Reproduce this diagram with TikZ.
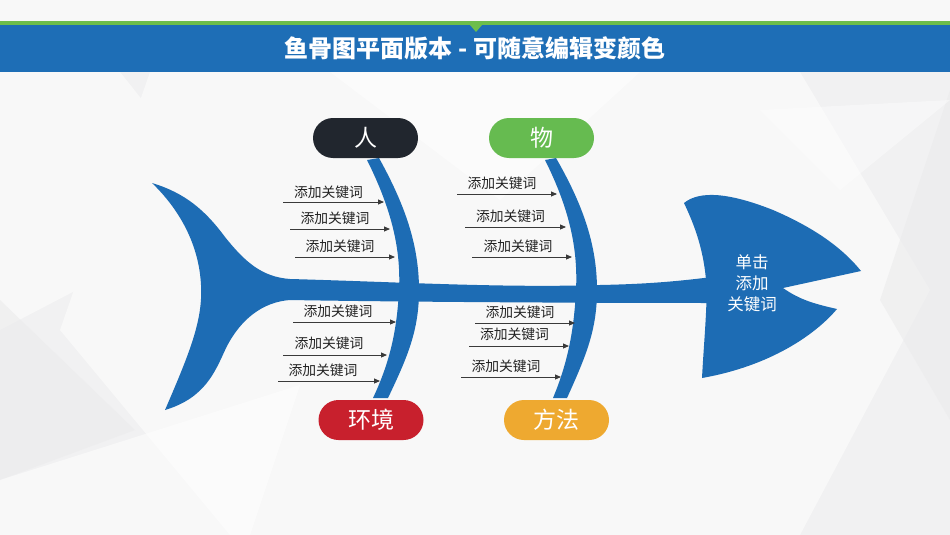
\documentclass[tikz,border=0pt]{standalone}
\usepackage{fontspec}
\setmainfont{Noto Sans CJK SC}
\usetikzlibrary{arrows.meta}
\definecolor{bgc}{HTML}{F1F1F2}
\definecolor{facet}{HTML}{F8F8F8}
\definecolor{facetd}{HTML}{EBEBEC}
\definecolor{hdrblue}{HTML}{1E6EB6}
\definecolor{hdrgreen}{HTML}{6DBE4B}
\definecolor{fishblue}{HTML}{1D6CB4}
\definecolor{pdark}{HTML}{21262E}
\definecolor{pgreen}{HTML}{66BB50}
\definecolor{pred}{HTML}{C8202D}
\definecolor{porange}{HTML}{EEA930}
\definecolor{arrowc}{HTML}{3A3A3A}
\definecolor{kwtext}{HTML}{222222}
\tikzset{
  pill/.style={rounded corners=20pt, minimum width=105pt, minimum height=40pt, inner sep=0pt, text=white, font=\fontsize{23}{26}\selectfont},
  kw/.style={inner sep=0pt, text=kwtext, font=\fontsize{13.8}{16}\selectfont},
  kwarrow/.style={draw=arrowc, line width=0.9pt, -{Triangle[length=6pt,width=5pt]}},
  titletext/.style={text=white, font=\fontsize{24}{27}\selectfont\bfseries, inner sep=0pt},
  headtext/.style={text=white, align=center, inner sep=0pt, font=\fontsize{16.5}{21}\selectfont}
}
\begin{document}
\begin{tikzpicture}[x=1pt,y=-1pt]
\useasboundingbox (0,0) rectangle (950,535);
% background
\fill[bgc] (0,0) rectangle (950,535);
\fill[facet] (150,72) -- (800,72) -- (930,290) -- (800,535) -- (230,535) -- (60,330) -- cycle;
\fill[facet] (0,72) -- (120,72) -- (230,210) -- (0,330) -- cycle;
\fill[facetd, opacity=0.6] (0,300) -- (135,430) -- (0,480) -- cycle;
\fill[facetd, opacity=0.6] (950,90) -- (950,420) -- (880,300) -- cycle;
\fill[white, opacity=0.5] (330,72) -- (640,72) -- (500,200) -- cycle;
\fill[white, opacity=0.5] (0,480) -- (300,385) -- (250,535) -- (0,535) -- cycle;
\fill[white, opacity=0.4] (760,110) -- (950,100) -- (840,190) -- cycle;
\fill[facet] (0,0) rectangle (950,21);
% header
\fill[hdrgreen] (0,21) rectangle (950,25);
\fill[hdrblue] (0,25) rectangle (950,72);
\fill[hdrgreen] (470,25) -- (482,25) -- (476,32) -- cycle;
\node[titletext] (title) at (475,48.5) {鱼骨图平面版本 - 可随意编辑变颜色};
% fish body: tail + spine
\fill[fishblue] (152,183) .. controls (185,193) and (205,210) .. (225,237)
  .. controls (245,262) and (262,277) .. (290,279)
  .. controls (400,282) and (500,288) .. (600,285)
  .. controls (650,284) and (680,281) .. (712,277)
  -- (712,303)
  .. controls (600,303) and (400,302) .. (290,300)
  .. controls (262,302) and (240,320) .. (226,348)
  .. controls (215,372) and (205,398) .. (165,410)
  .. controls (190,352) and (203,320) .. (201,285)
  .. controls (199,245) and (180,210) .. (152,183) -- cycle;
% head
\fill[fishblue] (684,203) .. controls (700,190) and (730,193) .. (773,210)
  .. controls (810,226) and (840,245) .. (861,271)
  -- (783,288) .. controls (800,300) and (815,304) .. (837,309)
  .. controls (815,335) and (770,366) .. (702,378)
  .. controls (704,340) and (708,300) .. (706,280)
  .. controls (703,245) and (692,220) .. (684,203) -- cycle;
\node[headtext] (head) at (752,283) {单击\\添加\\关键词};
% bones
\fill[fishblue] (367,160) .. controls (392,210) and (401,250) .. (399,290)
  .. controls (397,330) and (390,362) .. (373,398)
  -- (388,398) .. controls (408,356) and (419,330) .. (419,290)
  .. controls (419,245) and (405,205) .. (379,158) -- cycle;
\fill[fishblue] (545,160) .. controls (570,210) and (578,250) .. (576,290)
  .. controls (574,330) and (568,362) .. (553,398)
  -- (567,398) .. controls (586,356) and (597,330) .. (597,290)
  .. controls (597,245) and (583,205) .. (556,158) -- cycle;
% category pills
\node[pill, fill=pdark] (ren) at (365.5,138) {人};
\node[pill, fill=pgreen] (wu) at (541.5,138) {物};
\node[pill, fill=pred] (huanjing) at (371,420) {环境};
\node[pill, fill=porange] (fangfa) at (556.5,420) {方法};
% keyword labels
\node[kw] (k1) at (328.5,192) {添加关键词};
\node[kw] (k2) at (335,218) {添加关键词};
\node[kw] (k3) at (340,246) {添加关键词};
\node[kw] (k4) at (338,311) {添加关键词};
\node[kw] (k5) at (329,343) {添加关键词};
\node[kw] (k6) at (323,370) {添加关键词};
\node[kw] (k7) at (502,183) {添加关键词};
\node[kw] (k8) at (510.5,216) {添加关键词};
\node[kw] (k9) at (518,246) {添加关键词};
\node[kw] (k10) at (520,312) {添加关键词};
\node[kw] (k11) at (514.5,334) {添加关键词};
\node[kw] (k12) at (506,366) {添加关键词};
% arrow coordinates
\coordinate (s1) at (283,202); \coordinate (e1) at (384,202);
\coordinate (s2) at (290,229); \coordinate (e2) at (390,229);
\coordinate (s3) at (295,257); \coordinate (e3) at (395,257);
\coordinate (s4) at (293,322); \coordinate (e4) at (396,322);
\coordinate (s5) at (283,355); \coordinate (e5) at (387,355);
\coordinate (s6) at (278,381); \coordinate (e6) at (380,381);
\coordinate (s7) at (457,194); \coordinate (e7) at (557,194);
\coordinate (s8) at (465,227); \coordinate (e8) at (566,227);
\coordinate (s9) at (472,257); \coordinate (e9) at (572,257);
\coordinate (s10) at (475,323); \coordinate (e10) at (575,323);
\coordinate (s11) at (469,346); \coordinate (e11) at (569,346);
\coordinate (s12) at (461,377); \coordinate (e12) at (561,377);
\foreach \i in {1,...,12} { \draw[kwarrow] (s\i) -- (e\i); }
\end{tikzpicture}
\end{document}
